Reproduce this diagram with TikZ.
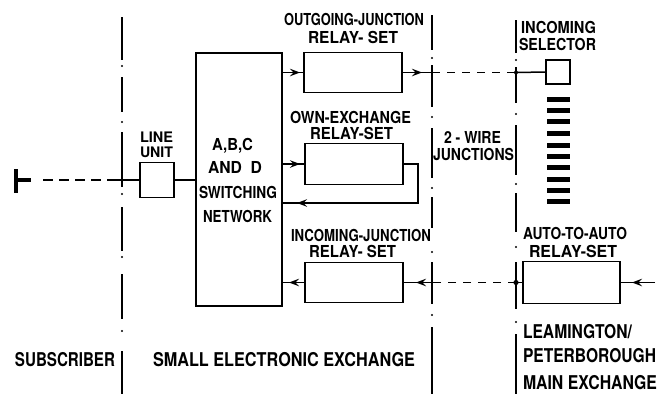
\documentclass[tikz,border=0pt]{standalone}
\usepackage{fontspec}
\usepackage{graphicx}
\setmainfont{TeX Gyre Heros}
\usetikzlibrary{arrows.meta}
\newcommand\sqz[2]{\resizebox{#1pt}{\height}{#2}}
\begin{document}
\begin{tikzpicture}[x=1pt,y=-1pt,
  box/.style={draw,line width=1.7pt,inner sep=0pt},
  lab/.style={inner sep=0pt,anchor=base,font=\fontsize{16.5}{18}\selectfont\bfseries},
  smalllab/.style={inner sep=0pt,anchor=base,font=\fontsize{14.5}{16}\selectfont\bfseries},
  big/.style={inner sep=0pt,anchor=base,font=\fontsize{19}{21}\selectfont\bfseries},
  wire/.style={line width=1.5pt},
  dwire/.style={line width=1.6pt,dash pattern=on 8pt off 7pt},
  sep/.style={line width=2pt},
  tip/.style={line width=1.5pt,-{Stealth[length=10pt,width=7.5pt,inset=3.5pt]}}
]
\useasboundingbox (0,0) rectangle (668,394);

% separator lines
\foreach \a/\b in {17/60,77/112,132/187,207/251,274/319,351/394} \draw[sep] (122,\a)--(122,\b);
\foreach \d in {66,122,194,257,331} \fill (122,\d) circle (1.2pt);
\foreach \a/\b in {15/50,65/107,128/178,197/228,262/304,327/394} \draw[sep] (432,\a)--(432,\b);
\foreach \d in {58,117,188,252,315} \fill (432,\d) circle (1.2pt);
\foreach \a/\b in {20/53,67/103,125/175,193/232,334/394} \draw[sep] (516,\a)--(516,\b);
\draw[line width=2.6pt] (516,262)--(516,309);
\foreach \d in {60,114,184,247,322} \fill (516,\d) circle (1.2pt);

% boxes
\node[box,minimum width=34pt,minimum height=35pt] (lu) at (157,180) {};
\node[box,minimum width=86pt,minimum height=253pt] (net) at (239,179.5) {};
\node[box,minimum width=98pt,minimum height=40pt] (og) at (353,72.5) {};
\node[box,minimum width=98pt,minimum height=41pt] (oe) at (354,164) {};
\node[box,minimum width=98pt,minimum height=40pt] (ij) at (354,282.5) {};
\node[box,minimum width=24pt,minimum height=24pt] (is) at (558,72) {};
\node[box,minimum width=97pt,minimum height=42pt] (aa) at (571.5,282.5) {};

% selector bank
\foreach \y in {99.3,110.7,121.7,133.3,145,156.7,167.7,179,190,201.7}
  \draw[line width=5pt] (547,\y) -- (570,\y);

% subscriber
\coordinate (term) at (16,180);
\coordinate (d0) at (43,180);
\coordinate (d1) at (117,180);
\draw[line width=3.5pt] (16,169) -- (16,193);
\draw[line width=4pt] (term) -- (31,180);
\draw[wire,dash pattern=on 10pt off 6pt] (d0) -- (d1);
\draw[wire] (d1) -- (lu.west);
\draw[wire] (lu.east) -- (net.west |- lu.east);

% outgoing
\coordinate (L2a) at (432,72.5);
\coordinate (L3a) at (516,72.5);
\draw[wire] (net.east |- og.west) -- (og.west);
\draw[tip] (287,72.5) -- (300,72.5);
\draw[wire] (og.east) -- (L2a);
\draw[tip] (409,72.5) -- (422,72.5);
\draw[dwire] (L2a) -- (L3a);
\draw[wire] (L3a) -- (is.west);
\fill (L3a) circle (2pt);

% own exchange
\draw[wire] (net.east |- oe.west) -- (oe.west);
\draw[tip] (287,164) -- (300,164);
\draw[wire] (oe.east) -- ++(14,0) |- (net.east |- 0,203);
\draw[tip] (311,203) -- (297,203);

% incoming
\coordinate (L2b) at (432,282.5);
\coordinate (L3b) at (516,282.5);
\coordinate (aain) at (655,282.5);
\draw[dwire] (L3b) -- (L2b);
\draw[wire] (L2b) -- (ij.east);
\draw[tip] (429,282.5) -- (416,282.5);
\draw[wire] (ij.west) -- (net.east |- ij.west);
\draw[tip] (302,282.5) -- (289,282.5);
\draw[wire] (L3b) -- (aa.west);
\fill (L3b) circle (2.6pt);
\draw[wire] (aain) -- (aa.east);
\draw[tip] (646,282.5) -- (632,282.5);

% labels
\node[lab] (t1) at (354,25) {\sqz{140}{OUTGOING-JUNCTION}};
\node[lab] (t2) at (353,43) {\sqz{90}{RELAY- SET}};
\node[lab] (t3) at (350.5,123) {\sqz{121}{OWN-EXCHANGE}};
\node[lab] (t4) at (351.5,139) {\sqz{83}{RELAY-SET}};
\node[smalllab] (t5) at (156.5,142.5) {\sqz{33}{LINE}};
\node[smalllab] (t6) at (156.5,157) {\sqz{33}{UNIT}};
\node[lab] (t7) at (232.5,150) {\sqz{41}{A,B,C}};
\node[lab] (t8) at (235,173) {\sqz{54}{AND\ \ D}};
\node[lab] (t9) at (238,198) {\sqz{78}{SWITCHING}};
\node[lab] (t10) at (237.5,222) {\sqz{69}{NETWORK}};
\node[lab] (t11) at (361,241) {\sqz{140}{INCOMING-JUNCTION}};
\node[lab] (t12) at (352.5,257) {\sqz{87}{RELAY- SET}};
\node[lab] (t13) at (472.5,143) {\sqz{57}{2 - WIRE}};
\node[lab] (t14) at (473.5,160) {\sqz{81}{JUNCTIONS}};
\node[lab] (t15) at (558.5,33) {\sqz{75}{INCOMING}};
\node[lab] (t16) at (557.5,50) {\sqz{77}{SELECTOR}};
\node[lab] (t17) at (575,239) {\sqz{104}{AUTO-TO-AUTO}};
\node[lab] (t18) at (573,257) {\sqz{88}{RELAY-SET}};
\node[big] (t19) at (577.5,338) {\sqz{109}{LEAMINGTON/}};
\node[big] (t20) at (589.5,362) {\sqz{133}{PETERBOROUGH}};
\node[big] (t21) at (590,389) {\sqz{134}{MAIN EXCHANGE}};
\node[big] (t22) at (65,366) {\sqz{100}{SUBSCRIBER}};
\node[big] (t23) at (284,366) {\sqz{262}{SMALL ELECTRONIC EXCHANGE}};
\end{tikzpicture}
\end{document}
